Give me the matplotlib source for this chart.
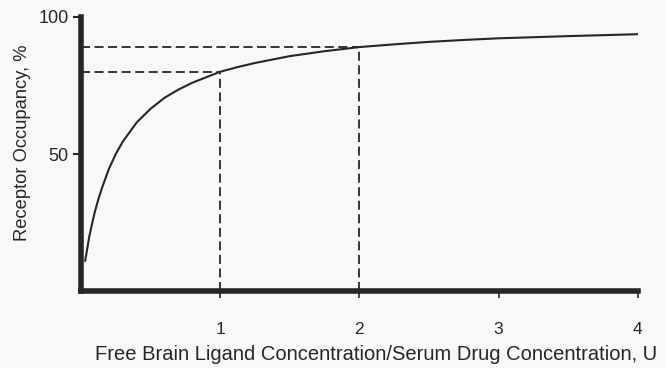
import matplotlib.pyplot as plt

# values
ratio = [0.03, 0.04, 0.05, 0.06, 0.075, 0.1, 0.125, 0.15, 0.175, 0.2, 0.25,
         0.3, 0.35, 0.4, 0.45, 0.5, 0.6, 0.7, 0.8, 0.9, 1.0, 1.125, 1.25,
         1.5, 1.75, 2.0, 2.25, 2.5, 2.75, 3.0, 3.5, 4.0]
occupancy = [11, 14, 17, 20, 23.5, 29, 33.5, 37.5, 41, 44.5, 50,
             54.5, 58, 61.5, 64, 66.5, 70.5, 73.5, 76, 78, 80, 81.7, 83.2,
             85.7, 87.5, 89, 90, 90.9, 91.6, 92.2, 93, 93.7]
marked_x = [1, 2]
marked_y = [80, 89]

plt.rcParams['font.family'] = ['Liberation Sans', 'DejaVu Sans']

bg = '#f8f8fa'
ink = '#262626'

fig = plt.figure(figsize=(6.66, 3.68), dpi=100, facecolor=bg)
ax = fig.add_axes([0.1216, 0.209, 0.836, 0.745], facecolor=bg)

ax.plot(ratio, occupancy, color=ink, lw=1.5, solid_capstyle='round',
        solid_joinstyle='round')

for mx, my in zip(marked_x, marked_y):
    ax.plot([0, mx], [my, my], color=ink, lw=1.3, dashes=(5, 2.5))
    ax.plot([mx, mx], [0, my], color=ink, lw=1.3, dashes=(5, 2.5))

ax.set_xlim(0, 4)
ax.set_ylim(0, 100)
ax.set_xticks([1, 2, 3, 4])
ax.set_yticks([50, 100])
ax.tick_params(axis='x', direction='out', length=5, width=1.2, color=ink,
               labelsize=12.5, pad=17, labelcolor=ink)
ax.tick_params(axis='y', direction='out', length=6, width=1.5, color=ink,
               labelsize=13, pad=3, labelcolor=ink)

for side in ['top', 'right']:
    ax.spines[side].set_visible(False)
for side in ['left', 'bottom']:
    ax.spines[side].set_linewidth(4)
    ax.spines[side].set_color(ink)

ax.set_xlabel('Free Brain Ligand Concentration/Serum Drug Concentration, U',
              fontsize=14.5, color=ink)
ax.xaxis.set_label_coords(0.53, -0.195)
ax.set_ylabel('Receptor Occupancy, %', fontsize=13.2, color=ink)
ax.yaxis.set_label_coords(-0.09, 0.54)

fig.savefig('out.png', dpi=100, facecolor=bg)
